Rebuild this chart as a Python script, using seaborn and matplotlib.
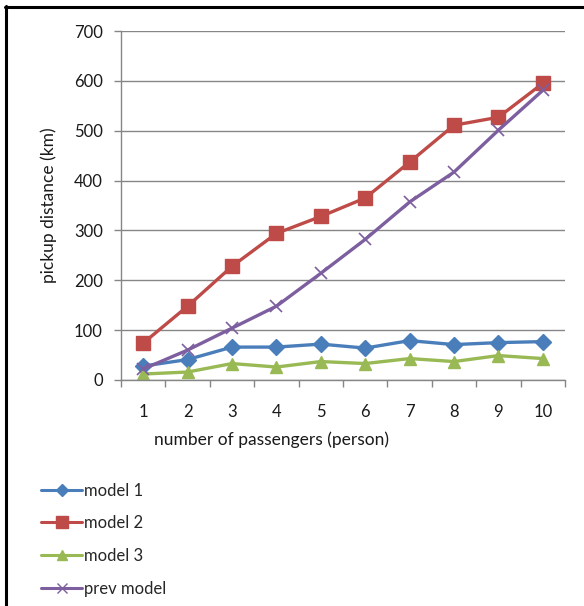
import matplotlib
matplotlib.use("Agg")
import matplotlib.pyplot as plt
from matplotlib.lines import Line2D
import seaborn as sns
import pandas as pd

passengers = [1, 2, 3, 4, 5, 6, 7, 8, 9, 10]
model_1 = [28, 41, 66, 66, 72, 64, 79, 71, 75, 77]
model_2 = [74, 148, 228, 294, 328, 365, 437, 511, 527, 595]
model_3 = [12, 16, 33, 26, 37, 33, 43, 37, 49, 43]
prev_model = [22, 60, 104, 148, 214, 282, 357, 417, 501, 581]

series_names = ["model 1", "model 2", "model 3", "prev model"]
series_values = [model_1, model_2, model_3, prev_model]
colors = ["#4A7EBB", "#BE4B48", "#98B954", "#7D5FA0"]
markers = ["D", "s", "^", "x"]
marker_sizes = [8, 10, 9, 9]

sns.set_theme(style="white")
plt.rcParams["font.family"] = ["Lato", "DejaVu Sans"]

fig = plt.figure(figsize=(5.84, 6.06), dpi=100)
ax = fig.add_axes([121 / 584, 1 - 380 / 606, 444 / 584, 349 / 606])

df = pd.DataFrame({"passengers": passengers})
for name, vals, c, m, ms in zip(series_names, series_values, colors, markers, marker_sizes):
    df[name] = vals
    sns.lineplot(data=df, x="passengers", y=name, ax=ax, color=c, lw=2.4,
                 marker=m, markersize=ms, markeredgecolor=c,
                 markeredgewidth=1.0 if m != "x" else 1.2,
                 label=name, legend=False)

ax.set_xlim(0.5, 10.5)
ax.set_ylim(0, 700)
ax.set_yticks(range(0, 701, 100))
ax.set_xticks(passengers)
ax.set_xticks([p + 0.5 for p in range(0, 11)], minor=True)
ax.tick_params(axis="x", which="major", length=0, pad=17, labelsize=12, colors="#1a1a1a")
ax.tick_params(axis="x", which="minor", length=5, width=1, color="#868686", direction="out", bottom=True)
ax.tick_params(axis="y", which="major", length=5, width=1, color="#868686", direction="out",
               left=True, pad=8, labelsize=12, labelcolor="#1a1a1a")
ax.yaxis.grid(True, color="#868686", lw=1)
ax.xaxis.grid(False)
ax.set_axisbelow(True)
for side in ["top", "right"]:
    ax.spines[side].set_visible(False)
for side in ["left", "bottom"]:
    ax.spines[side].set_color("#868686")
    ax.spines[side].set_linewidth(1)

ax.set_xlabel("")
ax.set_ylabel("pickup distance (km)", fontsize=12.5, labelpad=12, color="#1a1a1a")
fig.text(272 / 584, 1 - 440 / 606, "number of passengers (person)", ha="center", va="center",
         fontsize=12.5, color="#1a1a1a")

handles = [Line2D([], [], color=c, lw=2.2, marker=m, markersize=ms * 0.8, markeredgecolor=c)
           for c, m, ms in zip(colors, markers, marker_sizes)]
fig.legend(handles, series_names, loc="upper left", bbox_to_anchor=(34 / 584, 1 - 476 / 606),
           frameon=False, fontsize=12, handlelength=2.5, handletextpad=0.1,
           labelspacing=1.0, borderaxespad=0)

# outer frame edges
fig.add_artist(Line2D([5 / 584, 1], [1 - 6.5 / 606, 1 - 6.5 / 606], color="black", lw=2.2,
                      transform=fig.transFigure))
fig.add_artist(Line2D([6 / 584, 6 / 584], [0, 1 - 5.5 / 606], color="black", lw=2.2,
                      transform=fig.transFigure))

fig.savefig("out.png", dpi=100, facecolor="white")
